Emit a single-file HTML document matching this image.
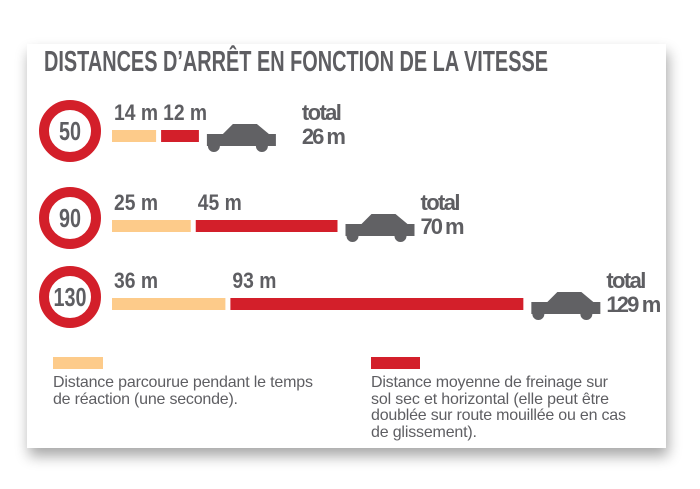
<!DOCTYPE html>
<html><head><meta charset="utf-8"><style>
body{margin:0;width:700px;height:489px;background:#fff;overflow:hidden}
svg{display:block}
text{font-family:"Liberation Sans Narrow","Liberation Sans",sans-serif;fill:#5e5e62}
.b{font-weight:bold}
</style></head><body>
<svg id="c" width="700" height="489">
<defs><filter id="sh" x="-10%" y="-10%" width="120%" height="130%"><feGaussianBlur in="SourceAlpha" stdDeviation="7"/><feOffset dx="2" dy="8"/><feComponentTransfer><feFuncA type="linear" slope="0.35"/></feComponentTransfer><feMerge><feMergeNode/><feMergeNode in="SourceGraphic"/></feMerge></filter></defs>
<rect x="27" y="44" width="639" height="404" fill="#fff" filter="url(#sh)"/>
<text x="44" y="71" class="b" font-size="29" textLength="504" lengthAdjust="spacingAndGlyphs">DISTANCES D’ARRÊT EN FONCTION DE LA VITESSE</text>
<g id="rows"></g>
<rect x="53" y="357" width="50" height="12" fill="#fdcb8a"/>
<text font-size="16" lengthAdjust="spacingAndGlyphs"><tspan x="53" y="387" textLength="260">Distance parcourue pendant le temps</tspan><tspan x="53" y="404" textLength="185">de réaction (une seconde).</tspan></text>
<rect x="371" y="357" width="49" height="12" fill="#d31f2a"/>
<text font-size="16" lengthAdjust="spacingAndGlyphs"><tspan x="371" y="387" textLength="237">Distance moyenne de freinage sur</tspan><tspan x="371" y="404" textLength="238">sol sec et horizontal (elle peut être</tspan><tspan x="371" y="420" textLength="255">doublée sur route mouillée ou en cas</tspan><tspan x="371" y="437" textLength="106">de glissement).</tspan></text>
</svg>
<script>
const speeds=[50,90,130];
const reaction=[14,25,36];
const braking=[12,45,93];
const totals=[26,70,129];
const NS='http://www.w3.org/2000/svg';
const g=document.getElementById('rows');
const x0=112,k=3.15,gap=5;
const signY=[131,218,297],barY=[130,220,298];
function el(t,a,p){const e=document.createElementNS(NS,t);for(const n in a)e.setAttribute(n,a[n]);(p||g).appendChild(e);return e;}
function tl(s){return String(s).length;}
speeds.forEach((s,i)=>{
 const c=el('circle',{cx:70,cy:signY[i],r:26,fill:'#fff',stroke:'#d31f2a','stroke-width':10});
 
 
 const st=el('text',{x:70,y:signY[i]+9,'text-anchor':'middle','font-size':26,class:'b',textLength:tl(s)*11,lengthAdjust:'spacingAndGlyphs'});st.textContent=s;
 
 
 const y=barY[i];
 const wr=reaction[i]*k,wb=braking[i]*k;
 const r1=el('rect',{x:x0,y:y,width:wr,height:12,fill:'#fdcb8a'});
 
 
 const bx=x0+wr+gap;
 const r2=el('rect',{x:bx,y:y,width:wb,height:12,fill:'#d31f2a'});
 
 
 const la=reaction[i]+' m',lb=braking[i]+' m';
 const t1=el('text',{x:x0+2,y:y-10,'font-size':22,class:'b',textLength:tl(la)*11,lengthAdjust:'spacingAndGlyphs'});t1.textContent=la;
 
 
 const t2=el('text',{x:bx+2,y:y-10,'font-size':22,class:'b',textLength:tl(lb)*11,lengthAdjust:'spacingAndGlyphs'});t2.textContent=lb;
 
 
 const cx=bx+wb+8,cy=y+13;
 const car=el('path',{d:`M${cx} ${cy-9}h16l10-10h24l12 10h7v12h-8a6 6 0 0 1-12 0h-36a6 6 0 0 1-12 0h-1z`,fill:'#616164'});
 
 
 const tt=el('text',{'font-size':22,class:'b',lengthAdjust:'spacingAndGlyphs'});
 
 
 const tx=cx+(i==0?95:75);
 const tv=totals[i]+' m';
 const a=el('tspan',{x:tx,y:y-10,textLength:40},tt);a.textContent='total';
 const b=el('tspan',{x:tx,y:y+14,textLength:tl(tv)*11},tt);b.textContent=tv;
});
</script>
</body></html>
